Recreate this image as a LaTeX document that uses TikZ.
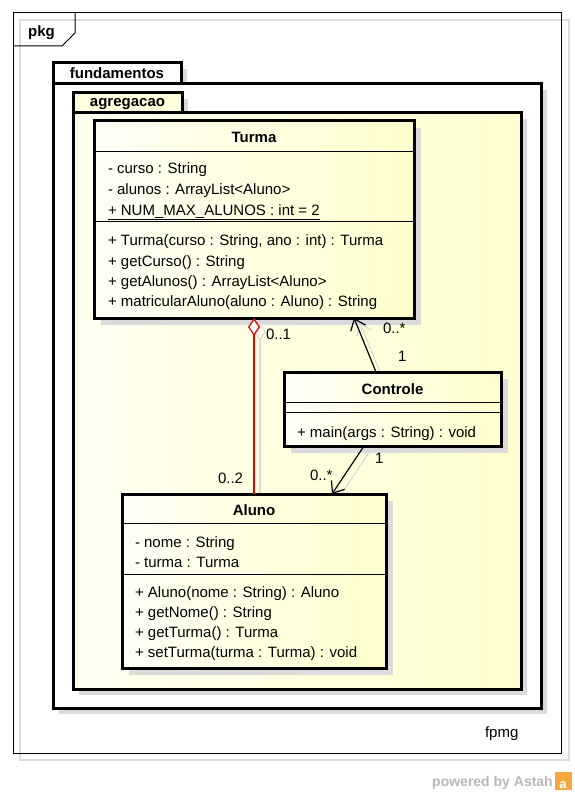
\documentclass[tikz,border=0pt]{standalone}
\usepackage{fontspec}
\setmainfont{Liberation Sans}
\usetikzlibrary{arrows.meta,shadows,calc}
\definecolor{shd}{RGB}{218,218,218}
\definecolor{ghost}{RGB}{220,220,220}
\definecolor{ylo}{RGB}{255,255,205}
\definecolor{ylol}{RGB}{255,255,246}
\definecolor{agrL}{RGB}{255,255,240}
\definecolor{agrR}{RGB}{255,255,208}
\definecolor{tabY}{RGB}{255,255,222}
\definecolor{astahgray}{RGB}{184,184,184}
\definecolor{astahorange}{RGB}{246,168,64}
\definecolor{redline}{RGB}{235,0,0}
\pgfdeclarelayer{bg}
\pgfdeclarelayer{ghostlayer}
\pgfsetlayers{bg,ghostlayer,main}
\tikzset{
  txt/.style={font=\fontsize{15}{17}\selectfont, inner sep=0pt, outer sep=0pt, anchor=base west},
  ttl/.style={font=\bfseries\fontsize{15}{17}\selectfont, inner sep=0pt, outer sep=0pt, anchor=base},
  classbox/.style={draw, line width=3pt, inner sep=0pt, outer sep=0pt, left color=ylol, right color=ylo,
    drop shadow={shadow xshift=7pt, shadow yshift=-7pt, fill=shd, opacity=1}},
  pkgbody/.style={draw, line width=3pt, inner sep=0pt, outer sep=0pt,
    drop shadow={shadow xshift=6pt, shadow yshift=-6pt, fill=shd, opacity=1}},
  sepline/.style={line width=1pt},
  conn/.style={line width=1.2pt, -{Straight Barb[length=10pt,width=16pt]}},
  agg/.style={line width=1.2pt, redline, {Diamond[length=18pt,width=12pt,fill=white]}-},
}
\begin{document}
\begin{tikzpicture}[x=1pt,y=-1pt]
\useasboundingbox (0,0) rectangle (574,794);
\begin{pgfonlayer}{bg}
\fill[white] (0,0) rectangle (574,794);
% outer diagram frame
\draw[ghost, line width=1.5pt] (20,20) rectangle (569,760);
\node[draw, line width=1pt, minimum width=548pt, minimum height=740pt, inner sep=0pt] (frame) at (287,383) {};
\draw[line width=1pt] (13,46) -- (62,46) -- (75,33) -- (75,13);
\node[ttl] (pkglbl) at (41.5,37) {pkg};
% package fundamentos
\node[pkgbody, fill=white, minimum width=128pt, minimum height=21pt] (fundtab) at (117,73.5) {};
\node[pkgbody, fill=white, minimum width=488pt, minimum height=624pt] (fund) at (297,396) {};
\node[ttl] (fundlbl) at (117,79) {fundamentos};
% package agregacao
\node[pkgbody, fill=tabY, minimum width=109pt, minimum height=20pt] (agrtab) at (127.5,103) {};
\node[pkgbody, left color=agrL, right color=agrR, minimum width=448pt, minimum height=576pt] (agr) at (297,401) {};
\node[ttl] (agrlbl) at (127.5,106.5) {agregacao};
\node[txt] (fpmg) at (485,737) {fpmg};
\end{pgfonlayer}

% classes
\node[classbox, minimum width=320pt, minimum height=197pt] (turma) at (254,219.5) {};
\node[classbox, minimum width=217pt, minimum height=74pt] (controle) at (392.5,409) {};
\node[classbox, minimum width=264pt, minimum height=174pt] (aluno) at (254,581) {};

% ghost connectors
\begin{pgfonlayer}{ghostlayer}
\begin{scope}[transform canvas={xshift=6pt,yshift=-5pt}]
\draw[agg, ghost, {Diamond[length=18pt,width=12pt,fill=none]}-] (turma.south) -- (aluno.north);
\draw[conn, ghost] ([xshift=92pt]controle.north west) -- ([xshift=260pt]turma.south west);
\draw[conn, ghost] ([xshift=80pt]controle.south west) -- ([xshift=210pt]aluno.north west);
\end{scope}
\end{pgfonlayer}

% Turma
\draw[sepline] ($(turma.north west)+(0,31)$) -- ($(turma.north east)+(0,31)$);
\draw[sepline] ($(turma.north west)+(0,101)$) -- ($(turma.north east)+(0,101)$);
\node[ttl] (tT) at (254,143) {Turma};
\node[txt] (t1) at (108,174) {- curso : String};
\node[txt] (t2) at (108,194.5) {- alunos : ArrayList<Aluno>};
\node[txt] (t3) at (108,215) {\underline{+ NUM\_MAX\_ALUNOS : int = 2}};
\node[txt] (t4) at (108,245.5) {+ Turma(curso : String, ano : int) : Turma};
\node[txt] (t5) at (108,266) {+ getCurso() : String};
\node[txt] (t6) at (108,286) {+ getAlunos() : ArrayList<Aluno>};
\node[txt] (t7) at (108,306) {+ matricularAluno(aluno : Aluno) : String};

% Controle
\draw[sepline] ($(controle.north west)+(0,30)$) -- ($(controle.north east)+(0,30)$);
\draw[sepline] ($(controle.north west)+(0,40)$) -- ($(controle.north east)+(0,40)$);
\node[ttl] (cT) at (392.5,394) {Controle};
\node[txt] (c1) at (297,437) {+ main(args : String) : void};

% Aluno
\draw[sepline] ($(aluno.north west)+(0,29)$) -- ($(aluno.north east)+(0,29)$);
\draw[sepline] ($(aluno.north west)+(0,80)$) -- ($(aluno.north east)+(0,80)$);
\node[ttl] (aT) at (254,515) {Aluno};
\node[txt] (a1) at (135,547) {- nome : String};
\node[txt] (a2) at (135,567) {- turma : Turma};
\node[txt] (a3) at (135,597) {+ Aluno(nome : String) : Aluno};
\node[txt] (a4) at (135,617) {+ getNome() : String};
\node[txt] (a5) at (135,637) {+ getTurma() : Turma};
\node[txt] (a6) at (135,657) {+ setTurma(turma : Turma) : void};

% connectors
\draw[agg] (turma.south) -- (aluno.north);
\draw[conn] ([xshift=92pt]controle.north west) -- ([xshift=260pt]turma.south west);
\draw[conn] ([xshift=80pt]controle.south west) -- ([xshift=210pt]aluno.north west);

% multiplicities
\node[txt] (m1) at (266,339) {0..1};
\node[txt] (m2) at (218,483) {0..2};
\node[txt] (m3) at (383,333) {0..*};
\node[txt] (m4) at (398,361) {1};
\node[txt] (m5) at (310,480) {0..*};
\node[txt] (m6) at (375,463) {1};

% powered by
\node[font=\bfseries\fontsize{14}{16}\selectfont, text=astahgray, inner sep=0pt, anchor=base east] (pw) at (553,786) {powered by Astah};
\node[fill=astahorange, minimum width=17pt, minimum height=18pt, inner sep=0pt] (logo) at (563,781) {};
\node[font=\bfseries\fontsize{13}{15}\selectfont, text=white, inner sep=0pt, anchor=base] (logoa) at (563,788) {a};
\end{tikzpicture}
\end{document}
